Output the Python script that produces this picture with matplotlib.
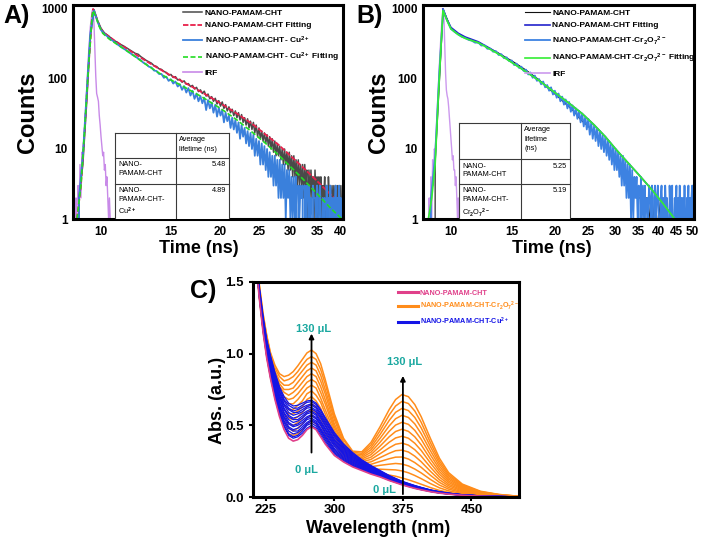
import numpy as np
import matplotlib
matplotlib.use("Agg")
import matplotlib.pyplot as plt
from matplotlib.ticker import FixedLocator, FixedFormatter, NullLocator
from matplotlib.patches import Rectangle
from matplotlib.lines import Line2D

plt.rcParams['font.family'] = ['Liberation Sans', 'DejaVu Sans']
plt.rcParams['font.weight'] = 'bold'
plt.rcParams['mathtext.fontset'] = 'custom'
plt.rcParams['mathtext.rm'] = 'Liberation Sans:bold'
plt.rcParams['mathtext.it'] = 'Liberation Sans:bold'
plt.rcParams['mathtext.bf'] = 'Liberation Sans:bold'
plt.rcParams['mathtext.default'] = 'bf'

# ---------------- Panel A data (TCSPC decay, Cu2+) ----------------
a_t0, a_dt = 8.6, 0.2            # channel grid start / width (ns)
a_cht_counts = [
    0, 2, 6, 45, 400, 980, 690, 530, 455, 420,
    385, 352, 335, 312, 296, 278, 262, 245, 232, 226,
    208, 196, 184, 176, 168, 155, 151, 140, 137, 128,
    124, 114, 116, 105, 108, 97, 99, 90, 94, 84,
    86, 78, 81, 72, 76, 66, 70, 62, 67, 57,
    61, 52, 56, 48, 53, 44, 49, 41, 47, 38,
    43, 35, 40, 33, 37, 30, 35, 28, 33, 26,
    31, 24, 28, 22, 27, 20, 25, 19, 24, 17,
    22, 15, 20, 14, 18, 13, 17, 12, 16, 11,
    15, 10, 14, 9, 13, 8, 12, 8, 11, 7,
    10, 6, 10, 6, 9, 5, 9, 5, 8, 4,
    8, 4, 7, 3, 7, 3, 6, 3, 6, 2,
    6, 3, 5, 1, 5, 2, 5, 2, 4, 1,
    5, 2, 4, 1, 4, 2, 4, 1, 3, 2,
    4, 1, 3, 1, 4, 2, 3, 1, 3, 1,
    3, 1, 3, 1, 3, 1, 2, 1, 3, 1]
a_cu_counts = [
    0, 2, 8, 60, 450, 950, 660, 500, 440, 400,
    365, 340, 312, 290, 272, 255, 238, 222, 210, 196,
    185, 170, 163, 150, 146, 132, 130, 118, 118, 104,
    108, 94, 99, 86, 92, 78, 84, 70, 79, 64,
    74, 58, 68, 52, 62, 48, 57, 45, 54, 36,
    50, 38, 46, 33, 43, 29, 39, 30, 36, 24,
    33, 25, 30, 20, 28, 19, 26, 17, 24, 14,
    22, 15, 20, 12, 18, 11, 17, 10, 16, 8,
    14, 8, 13, 6, 12, 6, 11, 5, 10, 4,
    9, 4, 8, 3, 8, 3, 7, 2, 7, 2,
    6, 2, 6, 1, 5, 2, 5, 1, 4, 1,
    4, 1, 4, 0, 3, 1, 3, 2, 3, 0,
    3, 1, 3, 0, 3, 1, 2, 0, 3, 2,
    2, 1, 3, 0, 2, 3, 1, 0, 2, 1,
    2, 0, 3, 1, 2, 0, 3, 1, 2, 0,
    2, 1, 3, 0, 2, 1, 3, 1, 2, 1]
a_cht_fit_t = [8.7, 8.9, 9.1, 9.3, 9.5, 9.55, 9.7, 9.9, 10.1, 10.5, 11, 12, 13, 14, 15, 16, 18,
               20, 22, 24, 26, 28, 30, 32, 35, 38, 40.6]
a_cht_fit_c = [1, 3, 20, 150, 800, 1000, 800, 580, 470, 400, 330, 240, 180, 140, 112, 93, 64,
               45, 32, 23, 16, 11.5, 8, 5.7, 3.5, 2.2, 1.5]
a_cu_fit_t = [8.7, 8.9, 9.1, 9.3, 9.5, 9.55, 9.7, 9.9, 10.1, 10.5, 11, 11.5, 12, 13, 14, 15, 16,
              18, 20, 22, 24, 26, 28, 30, 32, 35, 38, 40.6]
a_cu_fit_c = [1, 3, 20, 150, 800, 950, 780, 560, 450, 370, 310, 262, 222, 160, 122, 97, 80,
              55, 38, 26, 17.5, 12, 8.2, 5.6, 3.9, 2.3, 1.4, 0.98]
a_irf_t = [8.6, 8.65, 8.7, 8.75, 8.8, 8.85, 8.9, 8.95, 9.0, 9.1, 9.2, 9.3, 9.4, 9.5, 9.55, 9.6,
           9.65, 9.7, 9.75, 9.8, 9.85, 9.9, 9.95, 10.0, 10.05, 10.1, 10.15, 10.2, 10.25, 10.3,
           10.35, 10.4, 10.45, 10.5, 10.55, 10.6]
a_irf_c = [0, 2, 0, 3, 1, 6, 2, 9, 8, 20, 70, 220, 560, 930, 1000, 620, 260, 110, 62, 55, 48,
           30, 22, 15, 11, 8, 9, 5, 6, 3, 4, 2, 1, 2, 1, 0]
a_table_lifetimes = ["5.48", "4.89"]

# ---------------- Panel B data (TCSPC decay, Cr2O7 2-) ----------------
b_t0, b_dt = 8.5, 0.25
b_cr_counts = [
    0, 2, 8, 120, 980, 680, 520, 470, 432, 400,
    385, 362, 352, 330, 332, 300, 305, 270, 272, 245,
    250, 220, 226, 198, 204, 180, 184, 158, 166, 144,
    150, 130, 136, 116, 124, 104, 112, 94, 100, 84,
    92, 76, 82, 68, 76, 60, 68, 54, 62, 48,
    56, 43, 51, 38, 47, 34, 42, 30, 38, 27,
    35, 24, 32, 21, 29, 19, 27, 16, 24, 14,
    22, 13, 20, 11, 18, 10, 16, 9, 15, 8,
    13, 7, 12, 6, 11, 5, 10, 5, 9, 4,
    8, 3, 8, 3, 7, 2, 6, 2, 6, 1,
    5, 1, 4, 2, 4, 1, 3, 0, 4, 1,
    3, 1, 3, 0, 2, 1, 3, 2, 1, 3,
    2, 0, 3, 1, 2, 3, 1, 0, 2, 3,
    1, 2, 0, 3, 1, 2, 1, 0, 3, 1,
    2, 3, 0, 1, 2, 1, 3, 0, 2, 1,
    3, 1, 2, 0, 2, 1, 3, 1, 0, 2,
    1, 3, 0, 2, 1, 2, 3, 0, 2]
b_cht_t0, b_cht_dt = 8.5, 0.5
b_cht_counts = [
    0, 6, 990, 530, 440, 392, 356, 328, 300, 268,
    246, 222, 200, 182, 164, 148, 134, 120, 108, 97,
    86, 76, 68, 61, 55, 49, 44, 40, 36, 32,
    28, 25, 23, 21, 19, 17, 15, 13, 12, 11,
    10, 9, 8, 7, 6, 5, 5, 4, 4, 3,
    3, 3, 2, 2, 2, 2, 2, 2, 1, 2,
    1, 2, 1, 1, 2, 1, 1, 1, 1, 1,
    1, 1, 1, 1, 1, 1, 1, 1, 1, 1,
    1, 1, 1, 1, 1]
b_cht_fit_t = [9.48, 9.7, 10.0, 10.5, 11, 12, 13, 14, 15, 16, 18, 20, 22, 24, 26, 28, 30, 32,
               35, 38, 41, 44.5, 48, 50.8]
b_cht_fit_c = [1000, 740, 545, 450, 398, 340, 272, 218, 174, 141, 95, 64, 45, 32, 22, 15, 10,
               7, 4.3, 2.7, 1.7, 1.0, 0.6, 0.42]
b_cr_fit_t = [8.6, 8.8, 9.0, 9.2, 9.48, 9.7, 10.0, 10.5, 11, 12, 13, 14, 15, 16, 18, 20, 22, 24,
              26, 28, 30, 32, 35, 38, 41, 44.5, 48, 50.8]
b_cr_fit_c = [1, 2, 6, 60, 950, 720, 520, 430, 380, 330, 265, 215, 172, 140, 95, 64, 45, 32,
              22, 15, 10, 7, 4.3, 2.7, 1.7, 1.0, 0.6, 0.42]
b_irf_t = [8.6, 8.65, 8.7, 8.75, 8.8, 8.85, 8.9, 8.95, 9.0, 9.1, 9.2, 9.3, 9.4, 9.48, 9.55, 9.6,
           9.65, 9.7, 9.75, 9.8, 9.85, 9.9, 9.95, 10.0, 10.05, 10.1, 10.15, 10.2, 10.25, 10.3,
           10.35, 10.4, 10.45, 10.5, 10.55, 10.6]
b_irf_c = [0, 2, 0, 4, 1, 7, 3, 10, 9, 25, 80, 250, 600, 1000, 700, 280, 120, 70, 58, 52, 40,
           28, 20, 14, 10, 7, 8, 5, 5, 3, 4, 2, 1, 2, 1, 0]
b_table_lifetimes = ["5.25", "5.19"]

a_xticks = [10, 15, 20, 25, 30, 35, 40]
b_xticks = [10, 15, 20, 25, 30, 35, 40, 45, 50]
ab_yticks = [1, 10, 100, 1000]

# ---------------- Panel C data (UV-vis titration) ----------------
wl = [214, 218, 222, 226, 230, 235, 240, 245, 250, 255, 260, 265, 270, 275, 280, 285, 290, 300,
      310, 320, 330, 340, 350, 360, 367, 374, 381, 388, 395, 405, 415, 425, 440, 460, 480, 502]
abs_cht = [1.65, 1.38, 1.15, 0.97, 0.83, 0.68, 0.56, 0.47, 0.41, 0.39, 0.40, 0.43, 0.47, 0.49,
           0.47, 0.42, 0.37, 0.29, 0.245, 0.21, 0.185, 0.16, 0.14, 0.115, 0.10, 0.085, 0.072,
           0.06, 0.05, 0.037, 0.027, 0.02, 0.012, 0.006, 0.003, 0.001]
# one row per wavelength, one column per Cr2O7 2- addition (10 ... 130 uL)
abs_cr = [
    [1.66, 1.67, 1.67, 1.68, 1.69, 1.70, 1.70, 1.71, 1.72, 1.73, 1.73, 1.74, 1.75],
    [1.39, 1.40, 1.40, 1.41, 1.42, 1.43, 1.43, 1.44, 1.45, 1.46, 1.46, 1.47, 1.48],
    [1.16, 1.17, 1.18, 1.19, 1.20, 1.21, 1.22, 1.23, 1.24, 1.25, 1.26, 1.27, 1.28],
    [0.98, 0.99, 1.01, 1.02, 1.03, 1.04, 1.06, 1.07, 1.08, 1.09, 1.11, 1.12, 1.13],
    [0.84, 0.86, 0.87, 0.89, 0.90, 0.91, 0.93, 0.94, 0.95, 0.97, 0.98, 1.00, 1.01],
    [0.70, 0.72, 0.74, 0.75, 0.77, 0.79, 0.81, 0.83, 0.85, 0.86, 0.88, 0.90, 0.92],
    [0.58, 0.61, 0.63, 0.65, 0.68, 0.70, 0.72, 0.75, 0.77, 0.79, 0.81, 0.84, 0.86],
    [0.50, 0.53, 0.56, 0.58, 0.61, 0.64, 0.67, 0.70, 0.73, 0.75, 0.78, 0.81, 0.84],
    [0.44, 0.48, 0.51, 0.55, 0.58, 0.61, 0.65, 0.68, 0.71, 0.75, 0.78, 0.82, 0.85],
    [0.43, 0.46, 0.50, 0.54, 0.58, 0.61, 0.65, 0.69, 0.73, 0.76, 0.80, 0.84, 0.875],
    [0.44, 0.48, 0.52, 0.56, 0.60, 0.64, 0.68, 0.72, 0.76, 0.80, 0.84, 0.875, 0.915],
    [0.47, 0.51, 0.55, 0.59, 0.63, 0.67, 0.72, 0.76, 0.80, 0.84, 0.88, 0.92, 0.96],
    [0.51, 0.55, 0.59, 0.63, 0.68, 0.72, 0.76, 0.80, 0.84, 0.88, 0.92, 0.96, 1.005],
    [0.53, 0.57, 0.61, 0.65, 0.70, 0.74, 0.78, 0.82, 0.86, 0.90, 0.94, 0.98, 1.025],
    [0.51, 0.55, 0.59, 0.63, 0.67, 0.71, 0.76, 0.80, 0.84, 0.88, 0.92, 0.96, 1.00],
    [0.46, 0.50, 0.54, 0.58, 0.62, 0.66, 0.69, 0.73, 0.77, 0.81, 0.85, 0.89, 0.93],
    [0.40, 0.44, 0.47, 0.51, 0.54, 0.58, 0.61, 0.65, 0.68, 0.72, 0.75, 0.79, 0.82],
    [0.31, 0.33, 0.36, 0.38, 0.40, 0.42, 0.45, 0.47, 0.49, 0.51, 0.54, 0.56, 0.58],
    [0.26, 0.27, 0.28, 0.30, 0.31, 0.32, 0.33, 0.35, 0.36, 0.37, 0.38, 0.40, 0.41],
    [0.218, 0.227, 0.235, 0.244, 0.252, 0.261, 0.269, 0.278, 0.286, 0.295, 0.303, 0.312, 0.32],
    [0.195, 0.205, 0.215, 0.225, 0.235, 0.245, 0.255, 0.265, 0.275, 0.285, 0.295, 0.305, 0.315],
    [0.177, 0.194, 0.211, 0.228, 0.245, 0.262, 0.278, 0.295, 0.312, 0.329, 0.346, 0.363, 0.38],
    [0.167, 0.194, 0.221, 0.248, 0.275, 0.302, 0.328, 0.355, 0.382, 0.409, 0.436, 0.463, 0.49],
    [0.153, 0.191, 0.229, 0.267, 0.305, 0.343, 0.382, 0.420, 0.458, 0.496, 0.534, 0.572, 0.61],
    [0.145, 0.189, 0.234, 0.278, 0.323, 0.368, 0.412, 0.457, 0.502, 0.546, 0.591, 0.635, 0.68],
    [0.133, 0.182, 0.230, 0.279, 0.327, 0.376, 0.424, 0.473, 0.521, 0.570, 0.618, 0.667, 0.715],
    [0.120, 0.169, 0.217, 0.265, 0.314, 0.362, 0.410, 0.458, 0.507, 0.555, 0.603, 0.652, 0.70],
    [0.105, 0.150, 0.195, 0.240, 0.285, 0.330, 0.375, 0.420, 0.465, 0.510, 0.555, 0.600, 0.645],
    [0.089, 0.128, 0.168, 0.207, 0.246, 0.285, 0.325, 0.364, 0.403, 0.442, 0.482, 0.521, 0.56],
    [0.066, 0.094, 0.123, 0.152, 0.180, 0.209, 0.238, 0.266, 0.295, 0.324, 0.353, 0.381, 0.41],
    [0.046, 0.064, 0.083, 0.102, 0.120, 0.139, 0.158, 0.177, 0.195, 0.214, 0.233, 0.251, 0.27],
    [0.032, 0.043, 0.055, 0.066, 0.078, 0.089, 0.101, 0.112, 0.124, 0.135, 0.147, 0.158, 0.17],
    [0.018, 0.024, 0.030, 0.036, 0.042, 0.048, 0.054, 0.060, 0.066, 0.072, 0.078, 0.084, 0.09],
    [0.009, 0.011, 0.014, 0.016, 0.019, 0.022, 0.024, 0.027, 0.029, 0.032, 0.035, 0.037, 0.04],
    [0.004, 0.005, 0.006, 0.008, 0.009, 0.010, 0.011, 0.012, 0.013, 0.015, 0.016, 0.017, 0.018],
    [0.001, 0.002, 0.002, 0.002, 0.003, 0.003, 0.003, 0.003, 0.004, 0.004, 0.004, 0.005, 0.005]]
# one row per wavelength, one column per Cu2+ addition
abs_cu = [
    [1.65, 1.66, 1.66, 1.66, 1.67, 1.67, 1.67, 1.68, 1.68, 1.68, 1.69, 1.69, 1.69, 1.70, 1.70],
    [1.39, 1.39, 1.40, 1.40, 1.41, 1.41, 1.42, 1.42, 1.43, 1.43, 1.44, 1.44, 1.45, 1.45, 1.46],
    [1.16, 1.17, 1.17, 1.18, 1.19, 1.19, 1.20, 1.21, 1.22, 1.22, 1.23, 1.24, 1.25, 1.25, 1.26],
    [0.98, 0.99, 1.00, 1.01, 1.01, 1.02, 1.03, 1.04, 1.05, 1.06, 1.07, 1.07, 1.08, 1.09, 1.10],
    [0.84, 0.85, 0.86, 0.87, 0.88, 0.89, 0.90, 0.92, 0.93, 0.94, 0.95, 0.96, 0.97, 0.98, 0.99],
    [0.69, 0.71, 0.72, 0.73, 0.74, 0.76, 0.77, 0.78, 0.79, 0.81, 0.82, 0.83, 0.85, 0.86, 0.87],
    [0.57, 0.59, 0.60, 0.62, 0.63, 0.64, 0.66, 0.67, 0.69, 0.70, 0.71, 0.73, 0.74, 0.76, 0.77],
    [0.49, 0.50, 0.52, 0.53, 0.55, 0.56, 0.58, 0.59, 0.61, 0.62, 0.64, 0.65, 0.67, 0.68, 0.70],
    [0.43, 0.44, 0.46, 0.48, 0.49, 0.51, 0.52, 0.54, 0.56, 0.57, 0.59, 0.61, 0.62, 0.64, 0.655],
    [0.41, 0.42, 0.44, 0.46, 0.47, 0.49, 0.50, 0.52, 0.54, 0.55, 0.57, 0.59, 0.60, 0.62, 0.635],
    [0.42, 0.43, 0.45, 0.46, 0.48, 0.50, 0.51, 0.53, 0.54, 0.56, 0.58, 0.59, 0.61, 0.62, 0.64],
    [0.445, 0.46, 0.475, 0.49, 0.505, 0.52, 0.535, 0.55, 0.565, 0.58, 0.595, 0.61, 0.625, 0.64, 0.655],
    [0.48, 0.50, 0.51, 0.52, 0.54, 0.55, 0.56, 0.58, 0.59, 0.60, 0.62, 0.63, 0.64, 0.66, 0.67],
    [0.50, 0.515, 0.53, 0.54, 0.55, 0.565, 0.575, 0.59, 0.60, 0.615, 0.625, 0.64, 0.65, 0.665, 0.675],
    [0.48, 0.495, 0.51, 0.52, 0.53, 0.545, 0.555, 0.57, 0.58, 0.595, 0.605, 0.62, 0.63, 0.645, 0.655],
    [0.43, 0.445, 0.46, 0.47, 0.48, 0.50, 0.51, 0.52, 0.53, 0.55, 0.56, 0.57, 0.585, 0.60, 0.61],
    [0.38, 0.395, 0.41, 0.42, 0.43, 0.445, 0.455, 0.47, 0.48, 0.495, 0.505, 0.52, 0.53, 0.545, 0.555],
    [0.30, 0.31, 0.32, 0.33, 0.34, 0.355, 0.365, 0.375, 0.385, 0.395, 0.405, 0.42, 0.43, 0.44, 0.45],
    [0.253, 0.262, 0.27, 0.278, 0.287, 0.295, 0.303, 0.312, 0.32, 0.328, 0.337, 0.345, 0.353, 0.362, 0.37],
    [0.217, 0.223, 0.23, 0.237, 0.243, 0.25, 0.257, 0.263, 0.27, 0.277, 0.283, 0.29, 0.297, 0.303, 0.31],
    [0.19, 0.195, 0.20, 0.205, 0.21, 0.215, 0.22, 0.225, 0.23, 0.235, 0.24, 0.245, 0.25, 0.255, 0.26],
    [0.164, 0.168, 0.172, 0.176, 0.18, 0.184, 0.188, 0.192, 0.196, 0.20, 0.204, 0.208, 0.212, 0.216, 0.22],
    [0.143, 0.146, 0.149, 0.152, 0.155, 0.158, 0.161, 0.164, 0.167, 0.17, 0.173, 0.176, 0.179, 0.182, 0.185],
    [0.117, 0.12, 0.122, 0.124, 0.127, 0.129, 0.131, 0.134, 0.136, 0.138, 0.141, 0.143, 0.145, 0.148, 0.15],
    [0.102, 0.104, 0.106, 0.108, 0.11, 0.112, 0.114, 0.116, 0.118, 0.12, 0.122, 0.124, 0.126, 0.128, 0.13],
    [0.087, 0.088, 0.09, 0.092, 0.093, 0.095, 0.097, 0.098, 0.10, 0.102, 0.103, 0.105, 0.107, 0.108, 0.11],
    [0.074, 0.075, 0.077, 0.078, 0.08, 0.081, 0.083, 0.084, 0.086, 0.087, 0.089, 0.09, 0.092, 0.093, 0.095],
    [0.061, 0.063, 0.064, 0.065, 0.067, 0.068, 0.069, 0.071, 0.072, 0.073, 0.075, 0.076, 0.077, 0.079, 0.08],
    [0.051, 0.052, 0.053, 0.055, 0.056, 0.057, 0.058, 0.059, 0.06, 0.061, 0.062, 0.064, 0.065, 0.066, 0.067],
    [0.038, 0.039, 0.04, 0.04, 0.041, 0.042, 0.043, 0.044, 0.045, 0.046, 0.047, 0.047, 0.048, 0.049, 0.05],
    [0.028, 0.028, 0.029, 0.030, 0.030, 0.031, 0.032, 0.032, 0.033, 0.034, 0.034, 0.035, 0.036, 0.036, 0.037],
    [0.020, 0.021, 0.021, 0.022, 0.022, 0.023, 0.023, 0.024, 0.024, 0.025, 0.025, 0.026, 0.026, 0.027, 0.027],
    [0.012, 0.013, 0.013, 0.013, 0.013, 0.014, 0.014, 0.014, 0.014, 0.015, 0.015, 0.015, 0.015, 0.016, 0.016],
    [0.006, 0.006, 0.006, 0.007, 0.007, 0.007, 0.007, 0.007, 0.007, 0.007, 0.007, 0.008, 0.008, 0.008, 0.008],
    [0.003, 0.003, 0.003, 0.003, 0.003, 0.003, 0.003, 0.004, 0.004, 0.004, 0.004, 0.004, 0.004, 0.004, 0.004],
    [0.001, 0.001, 0.001, 0.001, 0.001, 0.001, 0.001, 0.001, 0.001, 0.001, 0.001, 0.001, 0.001, 0.001, 0.001]]
c_xticks = [225, 300, 375, 450]
c_yticks = [0.0, 0.5, 1.0, 1.5]
arrow1_wl, arrow1_span = 275, (0.31, 1.14)
arrow2_wl, arrow2_span = 375, (0.02, 0.845)

# ---------------- styling ----------------
GRAY, RED, BLUE_A, GREEN_A, PURPLE = '#4a4a4a', '#e8204a', '#3a80dc', '#22dd22', '#c88ae8'
BLACK_B, DBLUE_B, LBLUE_B, GREEN_B, PURPLE_B = '#111111', '#2222cc', '#3d82e2', '#33ee33', '#cc99ee'
PINK, ORANGE, BLUE_C, TEAL = '#e0408a', '#ff8c1a', '#1414e6', '#1aa8a0'

fig = plt.figure(figsize=(7.02, 5.37), dpi=100)
W, H = 702.0, 537.0
axA = fig.add_axes([73 / W, 1 - 219 / H, 270 / W, 214 / H])
axB = fig.add_axes([423 / W, 1 - 219 / H, 271 / W, 214 / H])
axC = fig.add_axes([253 / W, 1 - 497 / H, 266 / W, 215 / H])


def grid(t0, dt, n):
    return t0 + dt * np.arange(n)


def lifetime_table(ax, xs, ys, header, labels, values, fs=5.3):
    x0, xm, x1 = xs
    tr = ax.transAxes
    ax.add_patch(Rectangle((x0, ys[-1]), x1 - x0, ys[0] - ys[-1], transform=tr,
                           facecolor='white', edgecolor='none', zorder=5))
    kw = dict(color='#3a3a3a', lw=0.8, transform=tr, zorder=6)
    for y in ys[:-1]:
        ax.add_line(Line2D([x0, x1], [y, y], **kw))
    for x in xs:
        ax.add_line(Line2D([x, x], [ys[-1], ys[0]], **kw))
    px = 0.012
    py = 0.016
    ax.text(xm + px, ys[0] - py, header, transform=tr, ha='left', va='top', fontsize=fs,
            fontweight='normal', linespacing=1.45, zorder=7)
    for i in range(len(labels)):
        ax.text(x0 + px, ys[i + 1] - py, labels[i], transform=tr, ha='left', va='top',
                fontsize=fs, fontweight='normal', linespacing=1.35, zorder=7)
        ax.text(x1 - px, ys[i + 1] - py, values[i], transform=tr, ha='right', va='top',
                fontsize=fs, fontweight='normal', zorder=7)


def style_decay(ax, xticks, xlim):
    ax.set_xscale('log')
    ax.set_yscale('log')
    ax.set_xlim(*xlim)
    ax.set_ylim(1, 1140)
    ax.xaxis.set_major_locator(FixedLocator(xticks))
    ax.xaxis.set_major_formatter(FixedFormatter([str(v) for v in xticks]))
    ax.xaxis.set_minor_locator(NullLocator())
    ax.yaxis.set_major_locator(FixedLocator(ab_yticks))
    ax.yaxis.set_major_formatter(FixedFormatter([str(v) for v in ab_yticks]))
    ax.yaxis.set_minor_locator(NullLocator())
    ax.tick_params(axis='both', length=0, labelsize=8.5)
    ax.tick_params(axis='x', pad=5)
    ax.tick_params(axis='y', pad=4)
    for s in ax.spines.values():
        s.set_linewidth(2.2)
    ax.set_xlabel('Time (ns)', fontsize=13, fontweight='bold')
    ax.set_ylabel('Counts', fontsize=17, fontweight='bold')


# ---------------- Panel A ----------------
tA = grid(a_t0, a_dt, len(a_cht_counts))
axA.plot(a_irf_t, a_irf_c, color=PURPLE, lw=1.0)
hA1, = axA.plot(tA, a_cht_counts, color=GRAY, lw=1.1)
hA2, = axA.plot(a_cht_fit_t, a_cht_fit_c, color=RED, lw=1.3, ls=(0, (3, 1)))
hA3, = axA.plot(tA, a_cu_counts, color=BLUE_A, lw=1.3)
hA4, = axA.plot(a_cu_fit_t, a_cu_fit_c, color=GREEN_A, lw=1.2, ls=(0, (3, 1.5)))
hA5 = Line2D([], [], color=PURPLE, lw=1.2)
style_decay(axA, a_xticks, (8.5, 40.7))
axA.legend([hA1, hA2, hA3, hA4, hA5],
           ['NANO-PAMAM-CHT', 'NANO-PAMAM-CHT Fitting', 'NANO-PAMAM-CHT- Cu$^{2+}$',
            'NANO-PAMAM-CHT- Cu$^{2+}$ Fitting', 'IRF'],
           loc='upper left', bbox_to_anchor=(0.40, 0.99), frameon=False, fontsize=6,
           handlelength=2.3, handletextpad=0.35, labelspacing=0.6, borderpad=0.2,
           borderaxespad=0.0)
lifetime_table(axA, (0.156, 0.381, 0.578), (0.402, 0.285, 0.164, 0.0),
               'Average\nlifetime (ns)',
               ['NANO-\nPAMAM-CHT', 'NANO-\nPAMAM-CHT-\nCu$^{2+}$'], a_table_lifetimes)
axA.xaxis.set_label_coords(0.467, -0.14)
axA.xaxis.label.set_va('center')
axA.yaxis.set_label_coords(-0.17, 0.5)
axA.yaxis.label.set_va('center')

# ---------------- Panel B ----------------
tB = grid(b_t0, b_dt, len(b_cr_counts))
tBc = grid(b_cht_t0, b_cht_dt, len(b_cht_counts))
axB.plot(b_irf_t, b_irf_c, color=PURPLE_B, lw=1.0)
hB1, = axB.plot(tBc, b_cht_counts, color=BLACK_B, lw=0.8)
hB2, = axB.plot(b_cht_fit_t, b_cht_fit_c, color=DBLUE_B, lw=1.2)
hB3, = axB.plot(tB, b_cr_counts, color=LBLUE_B, lw=1.3)
hB4, = axB.plot(b_cr_fit_t, b_cr_fit_c, color=GREEN_B, lw=1.2)
hB5 = Line2D([], [], color=PURPLE_B, lw=1.2)
style_decay(axB, b_xticks, (8.3, 50.6))
axB.legend([hB1, hB2, hB3, hB4, hB5],
           ['NANO-PAMAM-CHT', 'NANO-PAMAM-CHT Fitting', 'NANO-PAMAM-CHT-Cr$_2$O$_7$$^{2-}$',
            'NANO-PAMAM-CHT-Cr$_2$O$_7$$^{2-}$ Fitting', 'IRF'],
           loc='upper left', bbox_to_anchor=(0.37, 0.99), frameon=False, fontsize=6,
           handlelength=3.0, handletextpad=0.3, labelspacing=0.6, borderpad=0.2,
           borderaxespad=0.0)
lifetime_table(axB, (0.133, 0.362, 0.542), (0.449, 0.280, 0.164, 0.0),
               'Average\nlifetime\n(ns)',
               ['NANO-\nPAMAM-CHT', 'NANO-\nPAMAM-CHT-\nCr$_2$O$_7$$^{2-}$'], b_table_lifetimes)
axB.xaxis.set_label_coords(0.475, -0.14)
axB.xaxis.label.set_va('center')
axB.yaxis.set_label_coords(-0.166, 0.5)
axB.yaxis.label.set_va('center')

# ---------------- Panel C ----------------
cr = np.array(abs_cr)
cu = np.array(abs_cu)
for k in range(cr.shape[1]):
    hC2, = axC.plot(wl, cr[:, k], color=ORANGE, lw=1.1)
for k in range(cu.shape[1]):
    hC3, = axC.plot(wl, cu[:, k], color=BLUE_C, lw=0.9)
hC1, = axC.plot(wl, abs_cht, color=PINK, lw=1.2)
axC.set_xlim(211, 502)
axC.set_ylim(0, 1.5)
axC.xaxis.set_major_locator(FixedLocator(c_xticks))
axC.yaxis.set_major_locator(FixedLocator(c_yticks))
axC.yaxis.set_major_formatter(FixedFormatter(['%.1f' % v for v in c_yticks]))
axC.tick_params(axis='both', direction='out', length=3, width=1.5, labelsize=9.5)
axC.tick_params(axis='x', pad=2)
for s in axC.spines.values():
    s.set_linewidth(2.2)
axC.set_xlabel('Wavelength (nm)', fontsize=13, fontweight='bold')
axC.set_ylabel('Abs. (a.u.)', fontsize=13, fontweight='bold')
axC.xaxis.set_label_coords(0.47, -0.145)
axC.xaxis.label.set_va('center')
axC.yaxis.set_label_coords(-0.132, 0.45)
axC.yaxis.label.set_va('center')

arrow_kw = dict(arrowstyle='-|>', color='black', lw=1.3, mutation_scale=7, shrinkA=0, shrinkB=0)
axC.annotate('', xy=(arrow1_wl, arrow1_span[1]), xytext=(arrow1_wl, arrow1_span[0]),
             arrowprops=arrow_kw)
axC.annotate('', xy=(arrow2_wl, arrow2_span[1]), xytext=(arrow2_wl, arrow2_span[0]),
             arrowprops=arrow_kw)
axC.text(277, 1.17, '130 μL', color=TEAL, fontsize=8, ha='center', va='center')
axC.text(269, 0.19, '0 μL', color=TEAL, fontsize=8, ha='center', va='center')
axC.text(377, 0.94, '130 μL', color=TEAL, fontsize=8, ha='center', va='center')
axC.text(355, 0.05, '0 μL', color=TEAL, fontsize=8, ha='center', va='center')

legC = axC.legend([Line2D([], [], color=PINK, lw=2.2), Line2D([], [], color=ORANGE, lw=2.2),
                   Line2D([], [], color=BLUE_C, lw=2.2)],
                  ['NANO-PAMAM-CHT', 'NANO-PAMAM-CHT-Cr$_2$O$_7$$^{2-}$',
                   'NANO-PAMAM-CHT-Cu$^{2+}$'],
                  labelcolor=[PINK, ORANGE, BLUE_C], loc='upper left',
                  bbox_to_anchor=(0.545, 0.965), frameon=False, fontsize=5.2,
                  handlelength=2.8, handletextpad=0.2, labelspacing=0.45, borderpad=0.0,
                  borderaxespad=0.0)

# ---------------- panel letters ----------------
fig.text(17 / W, 1 - 16 / H, 'A)', fontsize=18, fontweight='bold', ha='center', va='center')
fig.text(370 / W, 1 - 16 / H, 'B)', fontsize=18, fontweight='bold', ha='center', va='center')
fig.text(203 / W, 1 - 291 / H, 'C)', fontsize=18, fontweight='bold', ha='center', va='center')

fig.savefig('out.png', dpi=100, facecolor='white')
